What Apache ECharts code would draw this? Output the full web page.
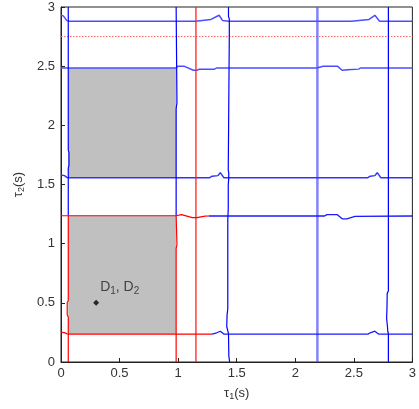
<!DOCTYPE html>
<html>
<head>
<meta charset="utf-8">
<script src="https://cdn.jsdelivr.net/npm/echarts@6/dist/echarts.min.js"></script>
<style>html,body{margin:0;padding:0;background:#fff}#c{width:419px;height:409px}</style>
</head>
<body>
<div id="c"></div>
<script>
// ---- data ----
const xTickValues = [0, 0.5, 1, 1.5, 2, 2.5, 3];
const yTickValues = [0, 0.5, 1, 1.5, 2, 2.5, 3];

// gray regions [x0, y0, x1, y1]
const grayRegions = [
  [0.062, 0.236, 0.983, 1.236],
  [0.062, 1.558, 0.983, 2.485]
];

// horizontal boundaries
const h1Blue = [[0,2.93],[0.02,2.925],[0.05,2.885],[0.07,2.88],[1.15,2.88],[1.16,2.895],[1.28,2.895],[1.35,2.93],[1.38,2.885],[1.43,2.88],[2.48,2.88],[2.49,2.895],[2.63,2.895],[2.68,2.93],[2.72,2.88],[3,2.88]];
const h2RedDotted = [[0,2.75],[3,2.75]];
const h3Blue = [[0,2.485],[0.98,2.485],[1.0,2.5],[1.05,2.5],[1.13,2.465],[1.16,2.465],[1.18,2.475],[1.31,2.475],[1.33,2.485],[2.18,2.485],[2.24,2.5],[2.36,2.5],[2.4,2.465],[2.45,2.47],[2.54,2.475],[2.56,2.485],[3,2.485]];
const h4Blue = [[0,1.58],[0.03,1.575],[0.05,1.56],[0.07,1.558],[1.27,1.558],[1.29,1.57],[1.34,1.575],[1.36,1.6],[1.39,1.558],[2.62,1.558],[2.64,1.57],[2.68,1.575],[2.7,1.6],[2.73,1.558],[3,1.558]];
const h5Red = [[0,1.236],[0.98,1.236],[0.99,1.245],[1.03,1.245],[1.12,1.22],[1.16,1.22],[1.23,1.232],[1.26,1.234]];
const h5Blue = [[1.26,1.234],[2.25,1.234],[2.27,1.245],[2.36,1.245],[2.4,1.21],[2.44,1.21],[2.51,1.23],[3,1.234]];
const h6Red = [[0,0.25],[0.03,0.248],[0.05,0.238],[0.07,0.236],[1.29,0.236]];
const h6Blue = [[1.29,0.236],[1.33,0.247],[1.36,0.26],[1.39,0.236],[2.62,0.236],[2.64,0.247],[2.68,0.26],[2.71,0.236],[3,0.236]];

// vertical boundaries
const v1Red = [[0.062,0],[0.062,0.38],[0.053,0.4],[0.053,0.5],[0.062,0.52],[0.062,1.236]];
const v1Blue = [[0.062,1.236],[0.062,1.64],[0.068,1.66],[0.068,1.77],[0.062,1.79],[0.062,3]];
const v2Red = [[0.983,0],[0.983,0.96],[0.99,0.97],[0.99,0.99],[0.983,1.0],[0.983,1.24]];
const v2Blue = [[0.983,1.24],[0.983,2.14],[0.99,2.15],[0.99,2.19],[0.983,2.2],[0.983,3]];
const v3Red = [[1.152,0],[1.152,3]];
const v4Blue = [[1.43,3],[1.43,2.92],[1.437,2.9],[1.437,2.77],[1.428,2.76],[1.428,1.62],[1.432,1.6],[1.432,1.55],[1.428,1.5],[1.428,1.3],[1.424,1.2],[1.424,0.45],[1.418,0.4],[1.415,0.3],[1.43,0.24],[1.433,0.05],[1.44,0]];
const v5Blue = [[2.189,0],[2.189,3]];
const v6Blue = [[2.795,3],[2.795,0.6],[2.785,0.58],[2.783,0.45],[2.78,0.37],[2.787,0.3],[2.79,0.26],[2.795,0.24],[2.795,0]];

const pointD = [[0.3, 0.5]];

// ---- chart ----
const chart = echarts.init(document.getElementById('c'), null, {renderer: 'canvas'});
const FONT = 'Liberation Sans, Arial, sans-serif';

function lineSeries(data, color, width, type, z) {
  return {
    type: 'line', data: data, symbol: 'none', silent: true, animation: false,
    lineStyle: {color: color, width: width, type: type || 'solid'}, z: z || 3
  };
}

const series = [
  {
    type: 'custom', silent: true, animation: false, z: 1,
    data: grayRegions,
    renderItem: function (params, api) {
      const p0 = api.coord([api.value(0), api.value(1)]);
      const p1 = api.coord([api.value(2), api.value(3)]);
      return {
        type: 'rect',
        shape: {x: p0[0], y: p1[1], width: p1[0] - p0[0], height: p0[1] - p1[1]},
        style: {fill: '#c0c0c0'}
      };
    },
    encode: {x: [0, 2], y: [1, 3]}
  },
  lineSeries(h2RedDotted, '#ff6060', 1, [1.5, 1.5], 2),
  lineSeries(v5Blue, 'rgba(90,90,255,0.75)', 2.5, 'solid', 2),
  lineSeries(h1Blue, '#4d4dff', 1.5),
  lineSeries(h3Blue, '#4d4dff', 1.5),
  lineSeries(h4Blue, '#3333ff', 1.5),
  lineSeries(h5Blue, '#1a1aff', 1.3),
  lineSeries(h6Blue, '#1a1aff', 1.3),
  lineSeries(v1Blue, '#0000ff', 1.2),
  lineSeries(v2Blue, '#0000ff', 1.2),
  lineSeries(v4Blue, '#0000ff', 1.2),
  lineSeries(v6Blue, '#0000ff', 1.2),
  lineSeries(v3Red, '#ff2020', 1.3, 'solid', 4),
  lineSeries(h5Red, '#ff0000', 1.2, 'solid', 4),
  lineSeries(h6Red, '#ff0000', 1.2, 'solid', 4),
  lineSeries(v1Red, '#ff0000', 1.2, 'solid', 4),
  lineSeries(v2Red, '#ff0000', 1.2, 'solid', 4),
  {
    type: 'scatter', data: pointD, symbol: 'diamond', symbolSize: 6, silent: true, animation: false, z: 6,
    itemStyle: {color: '#000'},
    label: {
      show: true, position: 'right', offset: [-4, -16], align: 'left',
      formatter: '{m|D}{s|1}{m|, D}{s|2}',
      rich: {
        m: {fontFamily: FONT, fontSize: 14, color: '#222'},
        s: {fontFamily: FONT, fontSize: 10, color: '#222', padding: [8, 0, 0, 0]}
      }
    }
  }
];

chart.setOption({
  backgroundColor: '#fff',
  animation: false,
  grid: {left: 61, top: 7, right: 3, bottom: 47, show: true, borderColor: '#222', borderWidth: 1, backgroundColor: 'transparent'},
  xAxis: {
    type: 'value', min: 0, max: 3, interval: 0.5,
    name: '{m|τ}{s|1}{m|(s)}', nameLocation: 'middle', nameGap: 24,
    nameTextStyle: {
      rich: {
        m: {fontFamily: FONT, fontSize: 13, color: '#333'},
        s: {fontFamily: FONT, fontSize: 9, color: '#333', padding: [6, 0, 0, 0]}
      }
    },
    axisLine: {show: true, onZero: false, lineStyle: {color: '#222', width: 1}},
    axisTick: {show: true, inside: true, length: 4, lineStyle: {color: '#222'}},
    axisLabel: {fontFamily: FONT, fontSize: 13, color: '#333', margin: 5,
      formatter: function (v) { return xTickValues.indexOf(v) >= 0 ? String(v) : ''; }},
    splitLine: {show: false}
  },
  yAxis: {
    type: 'value', min: 0, max: 3, interval: 0.5,
    name: '{m|τ}{s|2}{m|(s)}', nameLocation: 'middle', nameGap: 34, nameRotate: 90,
    nameTextStyle: {
      rich: {
        m: {fontFamily: FONT, fontSize: 13, color: '#333'},
        s: {fontFamily: FONT, fontSize: 9, color: '#333', padding: [6, 0, 0, 0]}
      }
    },
    axisLine: {show: true, onZero: false, lineStyle: {color: '#222', width: 1}},
    axisTick: {show: true, inside: true, length: 4, lineStyle: {color: '#222'}},
    axisLabel: {fontFamily: FONT, fontSize: 13, color: '#333', margin: 6,
      formatter: function (v) { return yTickValues.indexOf(v) >= 0 ? String(v) : ''; }},
    splitLine: {show: false}
  },
  series: series
});
</script>
</body>
</html>
